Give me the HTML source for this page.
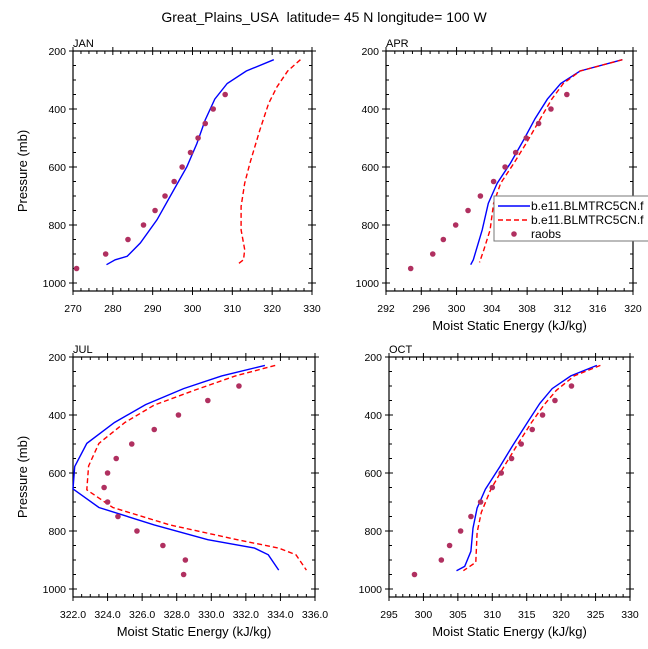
<!DOCTYPE html>
<html><head><meta charset="utf-8"><style>
body{margin:0;background:#fff}
svg{display:block;font-family:"Liberation Sans",sans-serif}
</style></head><body>
<svg id="chart" width="648" height="649" viewBox="0 0 648 649" xmlns="http://www.w3.org/2000/svg">
<rect width="648" height="649" fill="#fff"/>
<text x="324" y="22" text-anchor="middle" font-size="14">Great_Plains_USA&#160;&#160;latitude= 45 N longitude= 100 W</text>
<g id="panels"></g>
</svg>
<script>
// JAN
const janBlueP=[230,269,312,366,438,519,599,679,782,862,908,920,937];
const janBlueX=[320.4,313.5,308.7,305.6,303.2,301.1,298.6,295.3,291.1,286.9,283.6,280.6,278.4];
const janRedP=[230,269,324,381,473,587,656,736,817,885,920,937];
const janRedX=[327.1,323.9,321.2,319.1,316.9,314.4,313.1,312.2,312.2,313.1,312.8,311.2];
const janObsP=[950,900,850,800,750,700,650,600,550,500,450,400,350];
const janObsX=[270.9,278.2,283.8,287.7,290.6,293.1,295.4,297.4,299.5,301.4,303.2,305.2,308.2];
const janTicks=[270,280,290,300,310,320,330];
// APR
const aprBlueP=[230,269,312,366,433,507,587,656,725,817,920,937];
const aprBlueX=[318.8,314.0,311.8,310.3,308.9,307.6,306.1,304.6,303.6,302.9,301.9,301.6];
const aprRedP=[230,269,312,366,433,513,587,656,725,817,885,929];
const aprRedX=[318.8,314.0,312.1,310.8,309.5,308.0,306.5,305.0,304.2,303.8,303.1,302.6];
const aprObsP=[950,900,850,800,750,700,650,600,550,500,450,400,350];
const aprObsX=[294.8,297.3,298.5,299.9,301.3,302.7,304.2,305.5,306.7,307.9,309.3,310.7,312.5];
const aprTicks=[292,296,300,304,308,312,316,320];
// JUL
const julBlueP=[229,265,309,364,426,498,578,655,719,779,830,859,882,935];
const julBlueX=[333.1,330.6,328.4,326.2,324.4,322.8,322.1,322.0,323.5,326.7,329.8,332.5,333.3,333.9];
const julRedP=[229,265,315,366,426,498,576,658,719,779,830,859,882,935];
const julRedX=[333.7,331.4,329.0,326.7,325.0,323.5,322.9,322.8,324.3,327.6,331.5,333.9,334.9,335.5];
const julObsP=[950,900,850,800,750,700,650,600,550,500,450,400,350,300];
const julObsX=[328.4,328.5,327.2,325.7,324.6,324.0,323.8,324.0,324.5,325.4,326.7,328.1,329.8,331.6];
const julTicks=["322.0","324.0","326.0","328.0","330.0","332.0","334.0","336.0"];
// OCT
const octBlueP=[229,265,309,360,426,504,578,656,721,790,870,922,937];
const octBlueX=[325.2,321.4,318.7,316.9,315.1,313.0,311.1,309.0,307.8,307.2,306.9,306.0,304.8];
const octRedP=[229,265,315,366,426,504,578,656,736,805,908,937];
const octRedX=[325.7,321.9,319.3,317.5,315.7,313.6,311.7,309.8,308.4,307.8,307.6,305.8];
const octObsP=[950,900,850,800,750,700,650,600,550,500,450,400,350,300];
const octObsX=[298.7,302.6,303.8,305.4,306.9,308.3,310.0,311.3,312.8,314.2,315.8,317.3,319.1,321.5];
const octTicks=[295,300,305,310,315,320,325,330];
const pTicks=[200,400,600,800,1000];

const NS="http://www.w3.org/2000/svg";
const root=document.getElementById('panels');
function mk(tag,attrs,parent){const e=document.createElementNS(NS,tag);for(const k in attrs)e.setAttribute(k,attrs[k]);(parent||root).appendChild(e);return e;}

function panel(cfg){
  const g=mk('g',{});
  
  
  const L=cfg.x0,R=cfg.x1,T=cfg.top,B=cfg.top+240;
  const xmin=+cfg.ticks[0],xmax=+cfg.ticks[cfg.ticks.length-1];
  const sx=v=>L+(v-xmin)/(xmax-xmin)*(R-L);
  const sy=p=>T+(p-200)/800*232;
  const tk=mk('g',{stroke:'#000','stroke-width':1},g);
  for(let v=xmin;v<=xmax+1e-9;v+=cfg.minor){
    const major=cfg.ticks.some(t=>Math.abs(+t-v)<1e-6);
    const X=sx(v);
    if(major){mk('line',{x1:X,x2:X,y1:B-4,y2:B+4},tk);mk('line',{x1:X,x2:X,y1:T+4,y2:T-4},tk);}
    else{mk('line',{x1:X,x2:X,y1:B,y2:B-3},tk);mk('line',{x1:X,x2:X,y1:T,y2:T+3},tk);}
  }
  for(let p=200;p<=1000;p+=50){
    const major=p%200===0;const Y=sy(p);
    if(major){mk('line',{x1:L-4,x2:L+4,y1:Y,y2:Y},tk);mk('line',{x1:R-4,x2:R+4,y1:Y,y2:Y},tk);}
    else{mk('line',{x1:L,x2:L+3,y1:Y,y2:Y},tk);mk('line',{x1:R,x2:R-3,y1:Y,y2:Y},tk);}
  }
  const frame=mk('rect',{x:L,y:T,width:R-L,height:B-T,fill:'none',stroke:'#000','stroke-width':1.2},g);
  
  
  cfg.ticks.forEach(t=>{
    const e=mk('text',{x:sx(+t),y:B+21,'text-anchor':'middle','font-size':10.5},g);e.textContent=t;
    
    
  });
  pTicks.forEach(p=>{
    const e=mk('text',{x:L-7,y:sy(p)+4,'text-anchor':'end','font-size':10.5},g);e.textContent=p;
    
    
  });
  const lab=mk('text',{x:L,y:T-4,'font-size':11},g);lab.textContent=cfg.name.toUpperCase();
  
  
  if(cfg.ytitle){
    const yt=mk('text',{transform:`translate(27,${(T+B)/2}) rotate(-90)`,'text-anchor':'middle','font-size':13},g);yt.textContent='Pressure (mb)';
    
    
  }
  if(cfg.xtitle){
    const xt=mk('text',{x:(L+R)/2,y:B+39,'text-anchor':'middle','font-size':13},g);xt.textContent='Moist Static Energy (kJ/kg)';
    
    
  }
  const line=(xs,ps,col,dash,name)=>{
    const d=xs.map((v,i)=>(i?'L':'M')+sx(v).toFixed(1)+' '+sy(ps[i]).toFixed(1)).join(' ');
    const e=mk('path',{d,fill:'none',stroke:col,'stroke-width':1.4,'stroke-dasharray':dash||'none'},g);
    
    
  };
  line(cfg.bx,cfg.bp,'#0000ff',null,cfg.name+'-model-1-line');
  line(cfg.rx,cfg.rp,'#ff0000','5 3',cfg.name+'-model-2-line');
  cfg.ox.forEach((v,i)=>{
    const c=mk('circle',{cx:sx(v),cy:sy(cfg.op[i]),r:2.8,fill:'#b03060'},g);
    
    
  });
}
panel({name:'jan',x0:73,x1:312,top:51,ticks:janTicks,minor:2,ytitle:true,xtitle:false,bx:janBlueX,bp:janBlueP,rx:janRedX,rp:janRedP,ox:janObsX,op:janObsP});
panel({name:'apr',x0:386,x1:633,top:51,ticks:aprTicks,minor:1,ytitle:false,xtitle:true,bx:aprBlueX,bp:aprBlueP,rx:aprRedX,rp:aprRedP,ox:aprObsX,op:aprObsP});
panel({name:'jul',x0:73,x1:315,top:357,ticks:julTicks,minor:0.5,ytitle:true,xtitle:true,bx:julBlueX,bp:julBlueP,rx:julRedX,rp:julRedP,ox:julObsX,op:julObsP});
panel({name:'oct',x0:389,x1:630,top:357,ticks:octTicks,minor:1,ytitle:false,xtitle:true,bx:octBlueX,bp:octBlueP,rx:octRedX,rp:octRedP,ox:octObsX,op:octObsP});

const lg=mk('g',{});


mk('rect',{x:494,y:196,width:160,height:45,fill:'#fff',stroke:'#777','stroke-width':1},lg);
const entries=[['#0000ff',null,'b.e11.BLMTRC5CN.f'],['#ff0000','5 3','b.e11.BLMTRC5CN.f'],[null,null,'raobs']];
entries.forEach((en,i)=>{
  const y=206+i*14;
  const eg=mk('g',{},lg);
  
  
  if(en[0])mk('line',{x1:498,x2:530,y1:y,y2:y,stroke:en[0],'stroke-width':1.4,'stroke-dasharray':en[1]||'none'},eg);
  else mk('circle',{cx:514,cy:y,r:2.8,fill:'#b03060'},eg);
  const t=mk('text',{x:531,y:y+4,'font-size':12},eg);t.textContent=en[2];
});
</script>
</body></html>
